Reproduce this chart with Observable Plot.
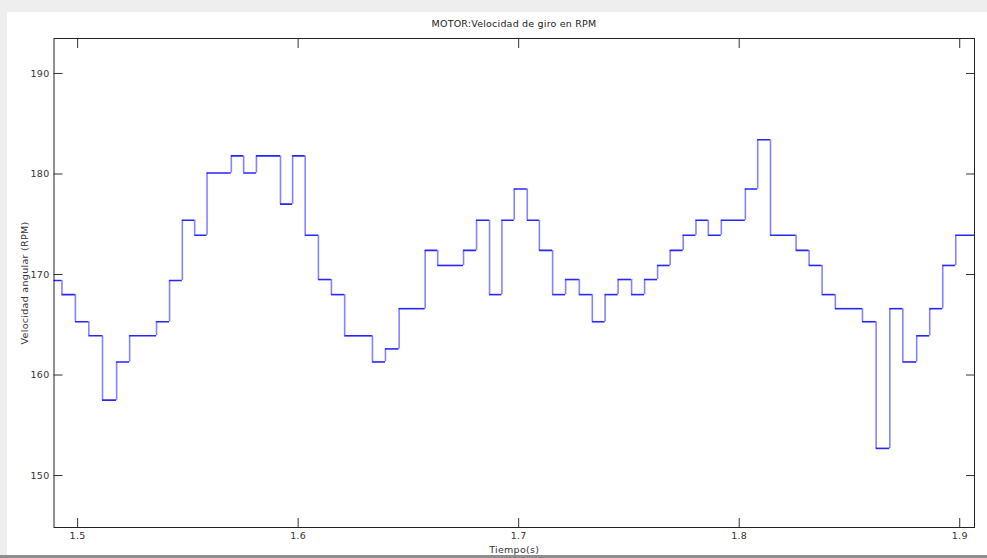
<!DOCTYPE html>
<html>
<head>
<meta charset="utf-8">
<script src="https://cdn.jsdelivr.net/npm/d3@7"></script>
<script src="https://cdn.jsdelivr.net/npm/@observablehq/plot@0.6"></script>
<style>
  html, body { margin: 0; padding: 0; }
  body { width: 987px; height: 558px; background: #eeeeee; position: relative; overflow: hidden; font-family: "DejaVu Sans", sans-serif; }
  #panel { position: absolute; left: 7px; top: 12px; width: 980px; height: 543px; background: #ffffff; }
  #shadow { position: absolute; left: 0; top: 555px; width: 987px; height: 3px; background: #8e8e8e; }
  #chart { position: absolute; left: 0; top: 0; width: 987px; }
  #title { height: 32px; width: 920px; margin-left: 54px; text-align: center; font-size: 9.5px; letter-spacing: 0.2px; line-height: 9px; box-sizing: border-box; color: #222; }
  #title span { position: relative; top: 19px; }
  #chart svg text { letter-spacing: 0.3px; }
</style>
</head>
<body>
<div id="panel"></div>
<div id="shadow"></div>
<div id="chart"><div id="title"><span>MOTOR:Velocidad de giro en RPM</span></div></div>
<script>
// Step start times (s) and RPM levels
const times = [1.4869, 1.4929, 1.4990, 1.5051, 1.5113, 1.5177, 1.5236, 1.5358, 1.5417, 1.5475,
  1.5531, 1.5587, 1.5697, 1.5753, 1.5811, 1.5920, 1.5975, 1.6032, 1.6092, 1.6151,
  1.6211, 1.6337, 1.6396, 1.6458, 1.6576, 1.6633, 1.6750, 1.6809, 1.6868, 1.6924,
  1.6980, 1.7039, 1.7094, 1.7154, 1.7213, 1.7275, 1.7334, 1.7392, 1.7451, 1.7512,
  1.7571, 1.7630, 1.7687, 1.7746, 1.7804, 1.7860, 1.7919, 1.8028, 1.8084, 1.8142,
  1.8258, 1.8317, 1.8376, 1.8436, 1.8559, 1.8621, 1.8683, 1.8742, 1.8805, 1.8864,
  1.8923, 1.8982];
const endTime = 1.9100;
const rpm = [169.4, 168.0, 165.3, 163.9, 157.5, 161.3, 163.9, 165.3, 169.4, 175.4,
  173.9, 180.1, 181.8, 180.1, 181.8, 177.0, 181.8, 173.9, 169.5, 168.0,
  163.9, 161.3, 162.6, 166.6, 172.4, 170.9, 172.4, 175.4, 168.0, 175.4,
  178.5, 175.4, 172.4, 168.0, 169.5, 168.0, 165.3, 168.0, 169.5, 168.0,
  169.5, 170.9, 172.4, 173.9, 175.4, 173.9, 175.4, 178.5, 183.4, 173.9,
  172.4, 170.9, 168.0, 166.6, 165.3, 152.7, 166.6, 161.3, 163.9, 166.6,
  170.9, 173.9];
const xTicks = [1.5, 1.6, 1.7, 1.8, 1.9];
const yTicks = [150, 160, 170, 180, 190];

const horiz = rpm.map((v, i) => ({t1: times[i], t2: i + 1 < times.length ? times[i + 1] : endTime, v}));
const vert = rpm.slice(1).map((v, i) => ({t: times[i + 1], v1: rpm[i], v2: v}));

const chart = Plot.plot({
  width: 987,
  height: 526,
  marginLeft: 53.5,
  marginRight: 13,
  marginTop: 6,
  marginBottom: 31,
  style: {fontFamily: "DejaVu Sans", fontSize: "9.5px", background: "transparent", color: "#222", overflow: "visible"},
  x: {domain: [1.4893, 1.9067]},
  y: {domain: [144.83, 193.48]},
  marks: [
    Plot.ruleX(vert, {x: "t", y1: "v1", y2: "v2", stroke: "#8484ff", strokeWidth: 1.6, clip: true}),
    Plot.ruleY(horiz, {x1: "t1", x2: "t2", y: "v", stroke: "#2626ff", strokeWidth: 1.6, clip: true}),
    Plot.axisX(xTicks, {anchor: "bottom", tickSize: -9, tickPadding: 14, tickFormat: d3.format(".1f"), stroke: "#333", fill: "#333",
      label: "Tiempo(s)", labelAnchor: "center", labelArrow: "none", labelOffset: 25}),
    Plot.axisX(xTicks, {anchor: "top", tickSize: -9, text: null, stroke: "#333", label: null}),
    Plot.axisY(yTicks, {anchor: "left", tickSize: -9, tickPadding: 13.5, stroke: "#333", fill: "#333",
      label: "Velocidad angular (RPM)", labelAnchor: "center", labelArrow: "none", labelOffset: 33}),
    Plot.axisY(yTicks, {anchor: "right", tickSize: -9, text: null, stroke: "#333", label: null}),
    Plot.frame({stroke: "#222"})
  ]
});
document.getElementById("chart").appendChild(chart);
</script>
</body>
</html>
